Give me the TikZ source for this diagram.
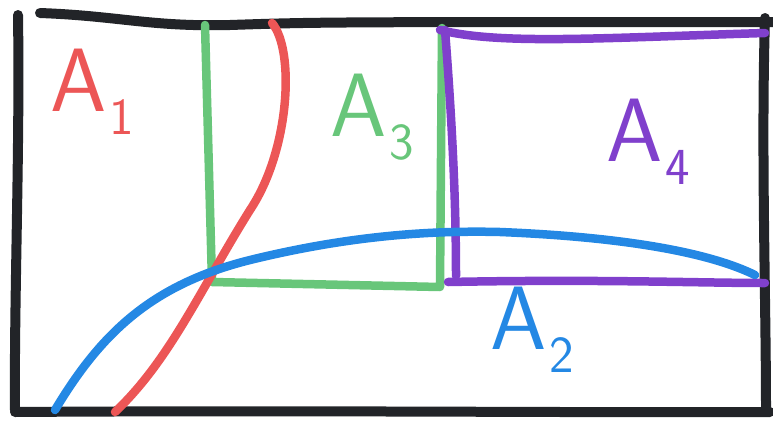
\documentclass[tikz,border=0pt]{standalone}
\usepackage{tikz}
\usetikzlibrary{calc}
\definecolor{penblack}{RGB}{34,36,40}
\definecolor{penred}{RGB}{236,86,86}
\definecolor{pengreen}{RGB}{104,198,122}
\definecolor{penblue}{RGB}{36,136,228}
\definecolor{penpurple}{RGB}{128,64,204}
\newcommand{\area}[1]{A\kern3pt\raisebox{-0.25em}{\fontsize{52}{52}\selectfont #1}}

\begin{document}
\begin{tikzpicture}[x=1pt,y=-1pt,
  stroke/.style={line width=8.5pt,line cap=round,line join=round},
  frame/.style={stroke,penblack,line width=10pt},
  label/.style={font=\sffamily\fontsize{90}{94}\selectfont,inner sep=0pt}]
  \useasboundingbox (0,0) rectangle (773,423);

  % Frame
  \draw[frame] (40,13) .. controls (120,16) and (150,27) .. (230,25)
    .. controls (320,22) .. (773,22);
  \draw[frame] (18,15) .. controls (20,150) and (14,300) .. (15,410);
  \draw[frame] (15,412) .. controls (300,410) and (600,413) .. (770,412);
  \draw[frame] (765,18) .. controls (761,150) and (766,300) .. (766,410);

  % Green box
  \draw[stroke,pengreen] (205,25) -- (212,282) -- (440,287) -- (442,28);

  % Purple box
  \draw[stroke,penpurple] (440,30) .. controls (500,45) and (600,38) .. (765,33);
  \draw[stroke,penpurple] (445,30) .. controls (452,120) and (456,200) .. (456,276);
  \draw[stroke,penpurple] (448,282) .. controls (600,279) and (700,283) .. (765,283);

  % Red curve
  \draw[stroke,penred] (272,23) .. controls (295,50) and (290,150) .. (250,210)
    .. controls (200,290) and (170,360) .. (115,412);

  % Blue curve
  \draw[stroke,penblue] (55,410) .. controls (100,335) and (150,285) .. (250,260)
    .. controls (340,238) and (420,230) .. (500,232)
    .. controls (600,236) and (700,248) .. (755,275);

  % Labels
  \node[label,penred] (a1) at (92,92) {\area{1}};
  \node[label,pengreen] (a3) at (372,117) {\area{3}};
  \node[label,penpurple] (a4) at (648,142) {\area{4}};
  \node[label,penblue] (a2) at (532,330) {\area{2}};
\end{tikzpicture}
\end{document}
